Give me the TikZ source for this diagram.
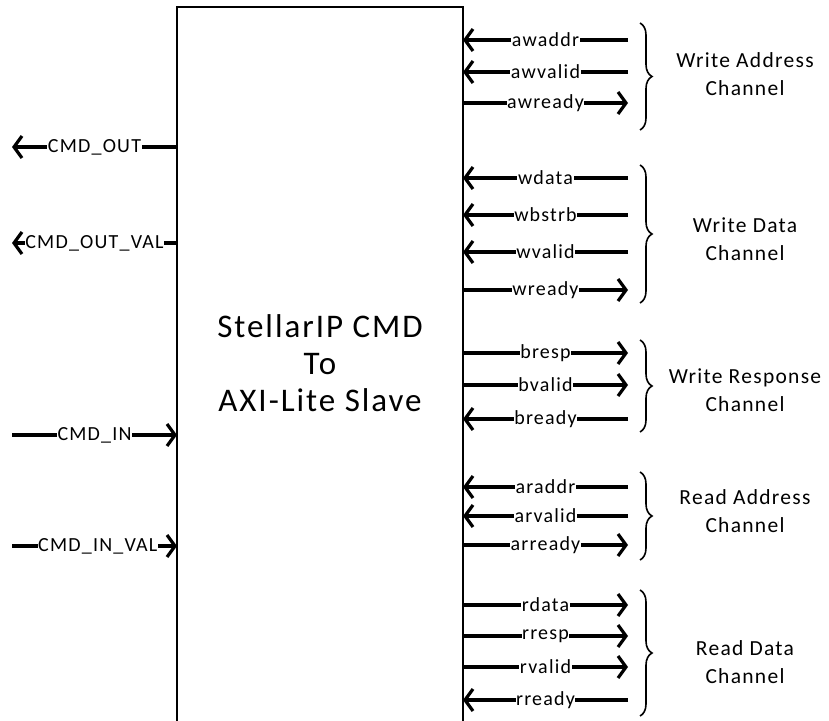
\documentclass[tikz,border=0pt]{standalone}
\usepackage{fontspec}
\setmainfont[LetterSpace=6]{Carlito}
\usetikzlibrary{positioning, arrows.meta, decorations.pathreplacing}

\newcommand{\sigfont}{\fontsize{20}{22}\selectfont}
\newcommand{\chanfont}{\fontsize{21.5}{28}\selectfont}
\newcommand{\blkfont}{\fontsize{33}{37}\selectfont}

\tikzset{
  sig/.style={line width=3.2pt, -{Straight Barb[length=8pt,width=22pt]}},
  siglbl/.style={fill=white, inner sep=0.6pt, font=\sigfont},
  chan/.style={align=center, font=\chanfont},
  grp/.style={decorate, decoration={brace, amplitude=12pt}, line width=1.6pt},
}

\begin{document}
\begin{tikzpicture}[x=1pt, y=-1pt]
  \useasboundingbox (0,0) rectangle (829,720);

  % the block
  \node[draw, line width=2.6pt, minimum width=286pt, minimum height=733pt,
        inner sep=0pt] (blk) at (320,373.5) {};
  \node[align=center, font=\blkfont] (title) at (320,363)
    {StellarIP CMD\\To\\AXI-Lite Slave};

  % left side
  \coordinate (cmdout-a) at (177,147);  \coordinate (cmdout-b) at (12,147);
  \coordinate (cmdoutval-a) at (177,243); \coordinate (cmdoutval-b) at (12,243);
  \coordinate (cmdin-a) at (177,435);   \coordinate (cmdin-b) at (12,435);
  \coordinate (cmdinval-a) at (177,546); \coordinate (cmdinval-b) at (12,546);
  \draw[sig] (cmdout-a) -- node[siglbl] (cmdout) {CMD\_OUT} (cmdout-b);
  \draw[sig] (cmdoutval-a) -- node[siglbl, pos=0.5] (cmdoutval) {CMD\_OUT\_VAL} (cmdoutval-b);
  \draw[sig] (cmdin-b) -- node[siglbl] (cmdin) {CMD\_IN} (cmdin-a);
  \draw[sig] (cmdinval-b) -- node[siglbl, pos=0.52] (cmdinval) {CMD\_IN\_VAL} (cmdinval-a);

  % right side, into the block
  \foreach \yy/\sig in {40/awaddr, 72/awvalid, 178/wdata, 215/wbstrb, 252/wvalid,
                        419/bready, 487/araddr, 516/arvalid, 700/rready} {
    \coordinate (\sig-a) at (463,\yy);
    \coordinate (\sig-b) at (628,\yy);
    \draw[sig] (\sig-b) -- node[siglbl] (\sig) {\sig} (\sig-a);
  }
  % right side, out of the block
  \foreach \yy/\sig in {103/awready, 290/wready, 353/bresp, 385/bvalid, 545/arready,
                        605/rdata, 636/rresp, 667/rvalid} {
    \coordinate (\sig-a) at (463,\yy);
    \coordinate (\sig-b) at (628,\yy);
    \draw[sig] (\sig-a) -- node[siglbl] (\sig) {\sig} (\sig-b);
  }

  % channel braces
  \foreach \ya/\yb/\grpname in {23/130/wa, 165/303/wd, 340/432/wr, 472/560/ra, 590/716/rd} {
    \coordinate (\grpname-top) at (640,\ya);
    \coordinate (\grpname-bot) at (640,\yb);
    \draw[grp] (\grpname-top) -- (\grpname-bot);
  }
  \node[chan] (wachan) at (745,74) {Write Address\\Channel};
  \node[chan] (wdchan) at (745,239) {Write Data\\Channel};
  \node[chan] (wrchan) at (745,390) {Write Response\\Channel};
  \node[chan] (rachan) at (745,511) {Read Address\\Channel};
  \node[chan] (rdchan) at (745,662) {Read Data\\Channel};
\end{tikzpicture}
\end{document}
